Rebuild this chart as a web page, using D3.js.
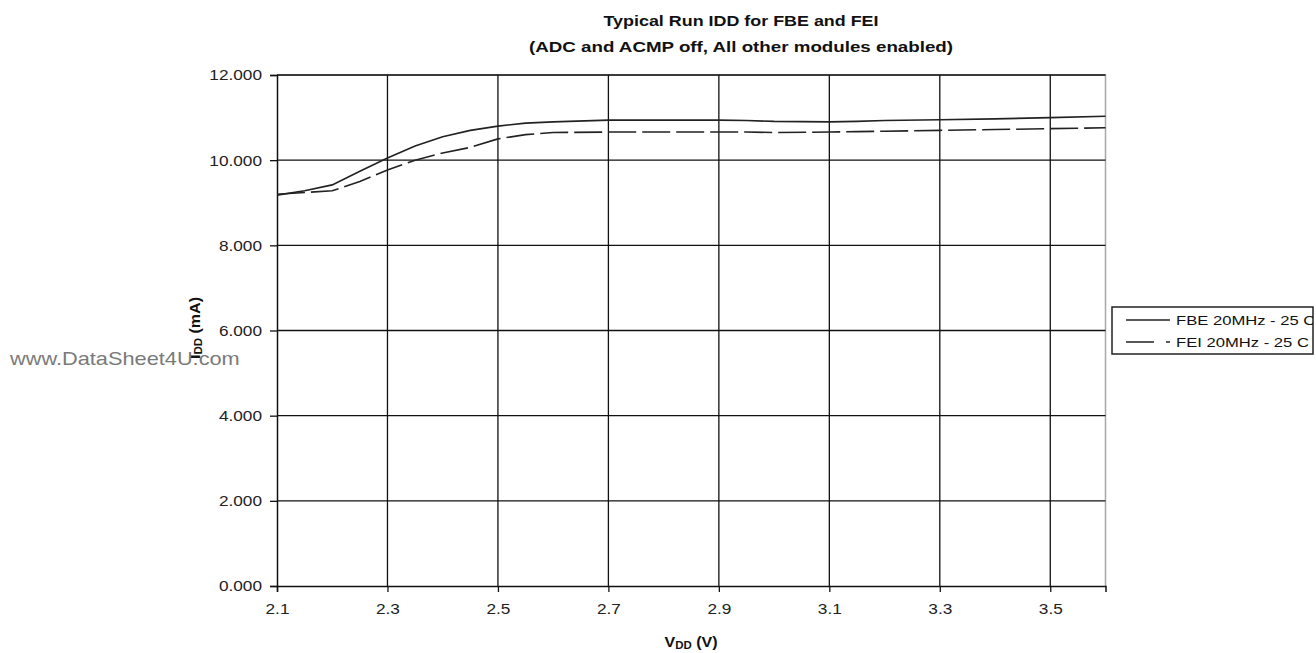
<!DOCTYPE html>
<html>
<head>
<meta charset="utf-8">
<script src="https://cdn.jsdelivr.net/npm/d3@7"></script>
<style>
  html, body { margin: 0; padding: 0; background: #fff; }
  svg { display: block; font-family: Arial, "Liberation Sans", sans-serif; }
</style>
</head>
<body>
<svg id="chart" width="1316" height="653"></svg>
<script>
// ---- data ----
const vdd = [2.1, 2.15, 2.2, 2.25, 2.3, 2.35, 2.4, 2.45, 2.5, 2.55, 2.6, 2.7, 2.8, 2.9, 2.95, 3.0, 3.1, 3.15, 3.2, 3.3, 3.4, 3.5, 3.6];
const fbe = [9.18, 9.28, 9.42, 9.74, 10.05, 10.33, 10.55, 10.70, 10.80, 10.87, 10.90, 10.94, 10.94, 10.94, 10.93, 10.91, 10.90, 10.91, 10.93, 10.95, 10.97, 11.00, 11.03];
const fei = [9.20, 9.24, 9.28, 9.50, 9.77, 10.00, 10.17, 10.30, 10.50, 10.60, 10.65, 10.66, 10.66, 10.66, 10.66, 10.65, 10.66, 10.67, 10.68, 10.70, 10.72, 10.74, 10.76];
const seriesNames = ["FBE 20MHz - 25 C", "FEI 20MHz - 25 C"];
const xTicks = [2.1, 2.3, 2.5, 2.7, 2.9, 3.1, 3.3, 3.5];
const yTicks = [0, 2, 4, 6, 8, 10, 12];
const titleLines = ["Typical Run IDD for FBE and FEI", "(ADC and ACMP off, All other modules enabled)"];

// ---- layout ----
const SX = 1.23; // horizontal text stretch of reference
const svg = d3.select("#chart");
const L = 277, R = 1105.5, T = 75, B = 586;
const x = d3.scaleLinear().domain([2.1, 3.6]).range([L, R]);
const y = d3.scaleLinear().domain([0, 12]).range([B, T]);

function stretch(sel, k) {
  sel.each(function () {
    const w = this.getComputedTextLength();
    this.setAttribute("textLength", w * (k || SX));
    this.setAttribute("lengthAdjust", "spacingAndGlyphs");
  });
  return sel;
}

// plot frame (top/right gray)
svg.append("path")
  .attr("d", `M${L},${T}H${R}V${B}`)
  .attr("fill", "none").attr("stroke", "#a8a8a8").attr("stroke-width", 1.5);

// gridlines
svg.append("g").selectAll("line").data(yTicks.filter(d => d > 0)).join("line")
  .attr("x1", L).attr("x2", R).attr("y1", d => y(d)).attr("y2", d => y(d))
  .attr("stroke", "#111").attr("stroke-width", 1.3);
svg.append("g").selectAll("line").data(xTicks.filter(d => d > 2.1)).join("line")
  .attr("y1", T).attr("y2", B).attr("x1", d => x(d)).attr("x2", d => x(d))
  .attr("stroke", "#111").attr("stroke-width", 1.3);

// axes
const yAxis = svg.append("g").attr("transform", `translate(${L},0)`)
  .call(d3.axisLeft(y).tickValues(yTicks).tickFormat(d3.format(".3f")).tickSize(7).tickPadding(8));
const xAxis = svg.append("g").attr("transform", `translate(0,${B})`)
  .call(d3.axisBottom(x).tickValues(xTicks).tickFormat(d3.format(".1f")).tickSize(6).tickPadding(12));
[yAxis, xAxis].forEach(g => {
  g.select(".domain").attr("stroke", "#111").attr("stroke-width", 1.5);
  g.selectAll(".tick line").attr("stroke", "#111").attr("stroke-width", 1.3);
  g.selectAll("text").attr("font-size", 14).attr("font-family", "Arial, 'Liberation Sans', sans-serif").attr("fill", "#222");
});
yAxis.selectAll("text").attr("dy", "0.35em");
stretch(yAxis.selectAll("text"));
stretch(xAxis.selectAll("text"));

// lines
const line = d3.line().x(d => x(d[0])).y(d => y(d[1]));
svg.append("path").datum(vdd.map((v, i) => [v, fbe[i]]))
  .attr("d", line).attr("fill", "none").attr("stroke", "#222").attr("stroke-width", 1.6);
svg.append("path").datum(vdd.map((v, i) => [v, fei[i]]))
  .attr("d", line).attr("fill", "none").attr("stroke", "#222").attr("stroke-width", 1.6)
  .attr("stroke-dasharray", "28,6");

// title
svg.append("g").selectAll("text").data(titleLines).join("text")
  .attr("x", 741).attr("y", (d, i) => 26 + i * 26)
  .attr("text-anchor", "middle").attr("font-weight", "bold").attr("font-size", 14.8).attr("fill", "#111")
  .text(d => d)
  .each(function (d, i) {
    this.setAttribute("textLength", i ? 424 : 275);
    this.setAttribute("lengthAdjust", "spacingAndGlyphs");
  });

// x label
const xl = svg.append("text").attr("x", 691).attr("y", 647).attr("text-anchor", "middle")
  .attr("font-weight", "bold").attr("font-size", 14).attr("fill", "#111")
  .attr("textLength", 53).attr("lengthAdjust", "spacingAndGlyphs");
xl.append("tspan").text("V");
xl.append("tspan").attr("font-size", 10).attr("dy", 2).text("DD");
xl.append("tspan").attr("dy", -2).text(" (V)");

// y label
const yl = svg.append("text").attr("transform", "translate(200,328) rotate(-90)").attr("text-anchor", "middle")
  .attr("font-weight", "bold").attr("font-size", 14).attr("fill", "#111")
  .attr("textLength", 62).attr("lengthAdjust", "spacingAndGlyphs");
yl.append("tspan").text("I");
yl.append("tspan").attr("font-size", 10).attr("dy", 2).text("DD");
yl.append("tspan").attr("dy", -2).text(" (mA)");

// watermark
svg.append("text").attr("x", 10).attr("y", 365).attr("font-size", 17.7).attr("fill", "#7a7a7a")
  .text("www.DataSheet4U.com").call(stretch);

// legend
svg.append("defs").append("clipPath").attr("id", "lgclip").append("rect")
  .attr("x", 1112).attr("y", 300).attr("width", 201).attr("height", 60);
const lg = svg.append("g");
lg.append("rect").attr("x", 1112).attr("y", 307).attr("width", 201).attr("height", 47)
  .attr("fill", "#fff").attr("stroke", "#222").attr("stroke-width", 1.5);
lg.selectAll("line").data(seriesNames).join("line")
  .attr("x1", 1126).attr("x2", 1170).attr("y1", (d, i) => 320 + i * 22).attr("y2", (d, i) => 320 + i * 22)
  .attr("stroke", "#222").attr("stroke-width", 1.5)
  .attr("stroke-dasharray", (d, i) => i ? "28,12" : null);
lg.append("g").attr("clip-path", "url(#lgclip)")
  .selectAll("text").data(seriesNames).join("text")
  .attr("x", 1176).attr("y", (d, i) => 325 + i * 22).attr("font-size", 13.5).attr("fill", "#111")
  .text(d => d).call(stretch);
</script>
</body>
</html>
